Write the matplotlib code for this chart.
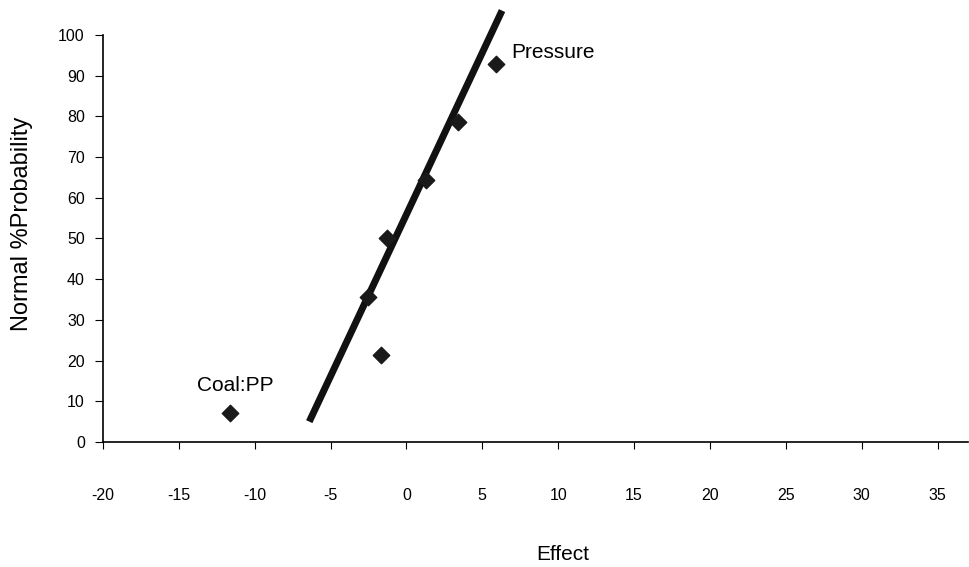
import numpy as np
import matplotlib.pyplot as plt

plt.rcParams['font.family'] = ['Liberation Sans', 'DejaVu Sans']
plt.rcParams['axes.unicode_minus'] = False

# Effects and their normal probabilities (%)
effects = [-11.6, -1.7, -2.55, -1.3, 1.3, 3.4, 5.9]
probability = [7.1, 21.4, 35.7, 50.0, 64.3, 78.6, 92.9]
labels = {0: 'Coal:PP', 6: 'Pressure'}

# Fitted normal line
line_x = [-6.4, 6.3]
line_y = [5.0, 106.0]

xticks = np.arange(-20, 40, 5)
yticks = np.arange(0, 110, 10)

fig = plt.figure(figsize=(9.7, 5.67), dpi=100)
ax = fig.add_axes([0.106, 0.2205, 0.892, 0.768])

ax.plot(line_x, line_y, color='#111111', linewidth=5, solid_capstyle='butt', zorder=2)
ax.scatter(effects, probability, marker='D', s=70, color='#1a1a1a', zorder=3)

ax.text(6.9, 95.8, labels[6], fontsize=15, va='center', ha='left')
ax.text(-11.3, 14.0, labels[0], fontsize=15, va='center', ha='center')

ax.set_xlim(-20, 37)
ax.set_ylim(0, 107)
ax.set_xticks(xticks)
ax.set_yticks(yticks)
ax.tick_params(axis='x', direction='out', length=5, pad=28, labelsize=11.5)
ax.tick_params(axis='y', direction='out', length=6, pad=7, labelsize=11.5)

ax.spines['top'].set_visible(False)
ax.spines['right'].set_visible(False)
ax.spines['left'].set_bounds(0, 100)
for side in ['left', 'bottom']:
    ax.spines[side].set_linewidth(1.2)

ax.set_xlabel('Effect', fontsize=15)
ax.xaxis.set_label_coords(0.532, -0.236)
ax.set_ylabel('Normal %Probability', fontsize=17)
ax.yaxis.set_label_coords(-0.081, 0.5)

fig.savefig('out.png', dpi=100)
